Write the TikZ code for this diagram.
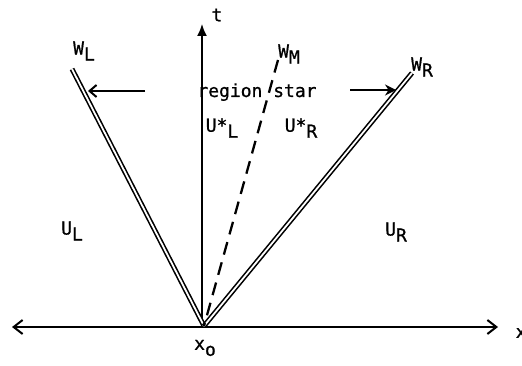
\documentclass[tikz,border=0pt]{standalone}
\usepackage{fontspec}
\newfontfamily\monof{DejaVu Sans Mono}[FakeBold=0.8]
\usetikzlibrary{arrows.meta}
\newcommand{\lowsub}[1]{\raisebox{-6pt}{#1}}
\begin{document}
\begin{tikzpicture}[x=1pt,y=-1pt,
  lbl/.style={inner sep=0pt,font=\monof\fontsize{18}{21}\selectfont},
  axis/.style={line width=2pt},
  wave/.style={line width=1.6pt,double,double distance=1.8pt},
  contact/.style={line width=2.3pt,dash pattern=on 13pt off 8pt},
  flow/.style={line width=2pt}]
\useasboundingbox (0,0) rectangle (522,366);
% coordinates
\coordinate (O) at (204,326);
\coordinate (xl) at (12,327);
\coordinate (xr) at (498,327);
\coordinate (tt) at (202,24);
\coordinate (Oa) at (202,326);
\coordinate (L) at (72,69);
\coordinate (R) at (412,73);
\coordinate (M) at (278,60);
\coordinate (la) at (145,91);
\coordinate (lb) at (88,91);
\coordinate (ra) at (350,90);
\coordinate (rb) at (396,90);
% axes
\draw[axis,{Straight Barb[length=9pt,width=14pt]}-{Straight Barb[length=9pt,width=14pt]}] (xl) -- (xr);
\draw[line width=1.6pt,-{Latex[length=12pt,width=10pt]}] (Oa) -- (tt);
% waves
\draw[wave] (L) -- (O);
\draw[wave] (R) -- (O);
\draw[contact] (M) -- (O);
% flow arrows
\draw[flow,-{Straight Barb[length=7pt,width=12pt]}] (la) -- (lb);
\draw[flow,-{Stealth[length=11pt,width=11pt]}] (ra) -- (rb);
% labels
\node[lbl] (t) at (217,15) {t};
\node[lbl] (x) at (521,333) {x};
\node[lbl] (xo) at (205,348) {x\lowsub{o}};
\node[lbl] (WL) at (84,51) {W\lowsub{L}};
\node[lbl] (WM) at (289,54) {W\lowsub{M}};
\node[lbl] (WR) at (422,67) {W\lowsub{R}};
\node[lbl,anchor=base] (rs) at (257,97) {region star};
\node[lbl] (ULs) at (222,128) {U*\lowsub{L}};
\node[lbl] (URs) at (301,128) {U*\lowsub{R}};
\node[lbl] (UL) at (72,231) {U\lowsub{L}};
\node[lbl] (UR) at (396,232) {U\lowsub{R}};
\end{tikzpicture}
\end{document}
